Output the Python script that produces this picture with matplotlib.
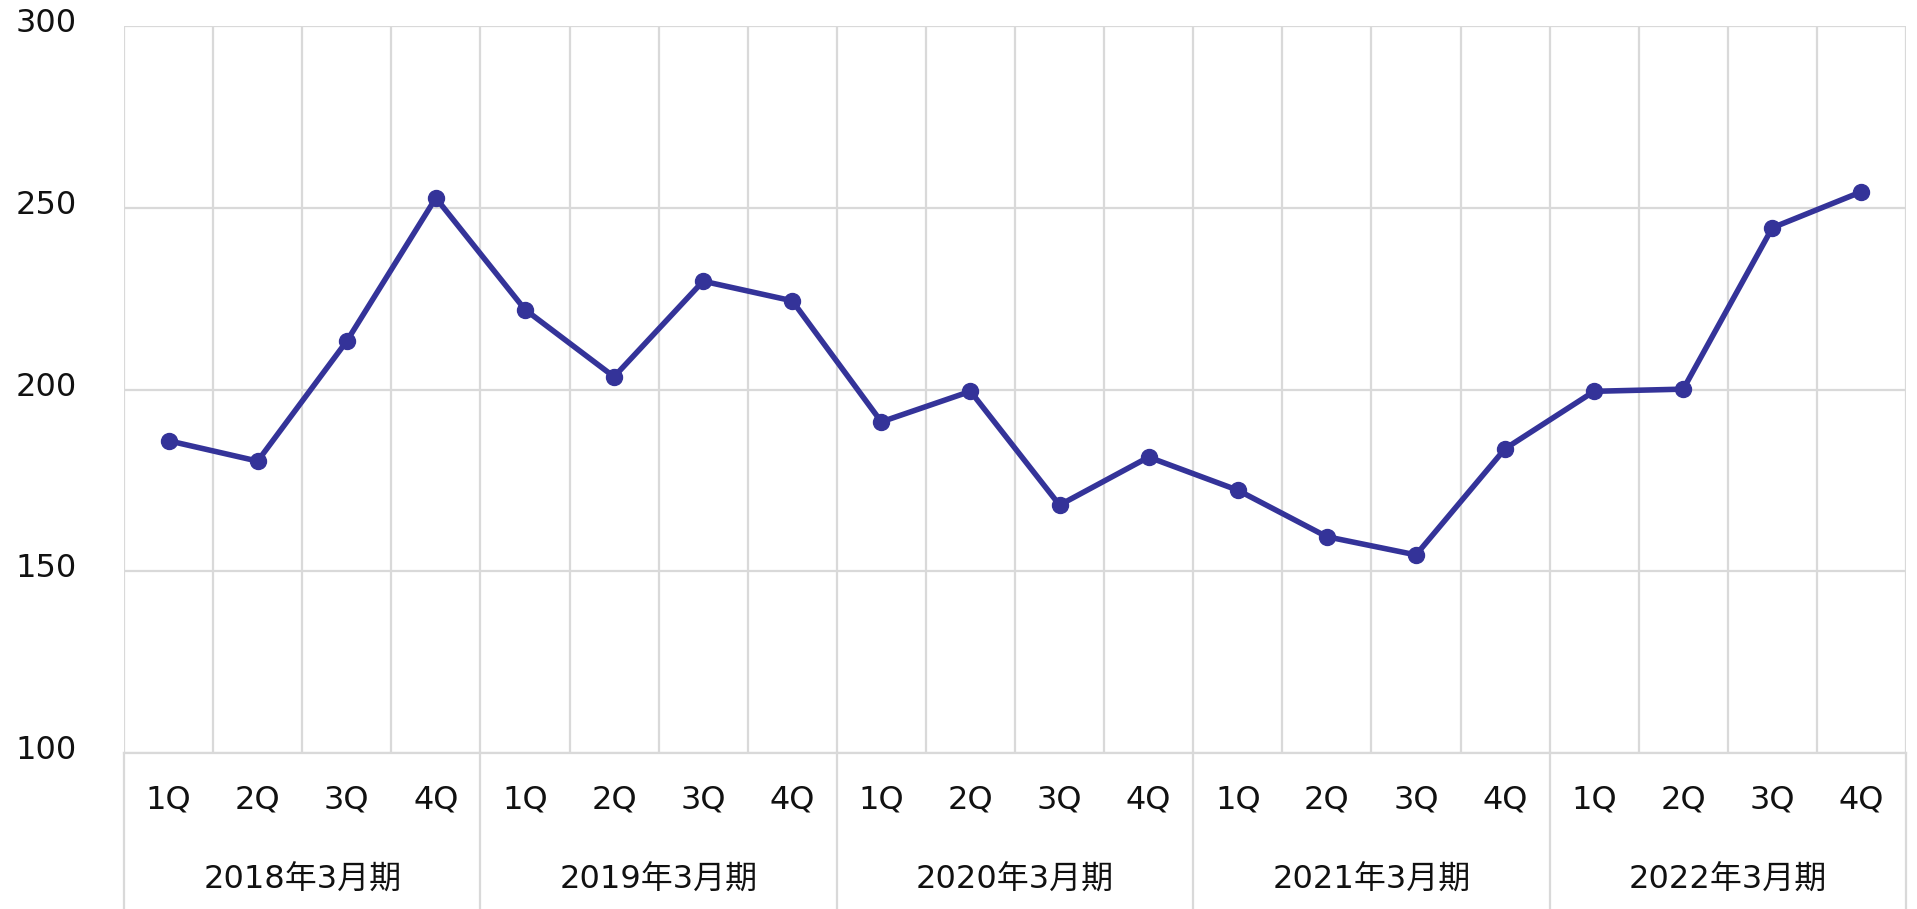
import matplotlib
matplotlib.use("Agg")
import matplotlib.pyplot as plt
import matplotlib.transforms as mtransforms
import numpy as np

plt.rcParams['font.family'] = ['DejaVu Sans', 'Noto Sans CJK JP']

years = ["2018年3月期", "2019年3月期", "2020年3月期", "2021年3月期", "2022年3月期"]
quarters = ["1Q", "2Q", "3Q", "4Q"]
values = [185.9, 180.3, 213.3, 252.7,
          222.0, 203.5, 229.8, 224.4,
          191.1, 199.5, 168.2, 181.4,
          172.3, 159.5, 154.5, 183.7,
          199.5, 200.1, 244.5, 254.4]
yticks = [100, 150, 200, 250, 300]

line_color = "#343399"
grid_color = "#d9d9d9"
text_color = "#111111"
fs = 23

fig = plt.figure(figsize=(19.17, 9.09), dpi=100)
ax = fig.add_axes([124/1917, 156/909, (1906-124)/1917, (753-26)/909])

n = len(values)
x = np.arange(1, n + 1)
ax.plot(x, values, color=line_color, lw=4.0, marker='o', markersize=11.5,
        solid_joinstyle='round', zorder=3, clip_on=False)

ax.set_xlim(0.5, n + 0.5)
ax.set_ylim(100, 300)
ax.set_yticks(yticks)
ax.set_yticklabels([str(v) for v in yticks], fontsize=fs, color=text_color)
ax.tick_params(axis='y', length=0, pad=34)
offset = mtransforms.ScaledTranslation(0, 6/100, fig.dpi_scale_trans)
for lbl in ax.get_yticklabels():
    lbl.set_transform(lbl.get_transform() + offset)

ax.set_xticks(np.arange(0.5, n + 1, 1.0))
ax.set_xticklabels([])
ax.tick_params(axis='x', length=0)
ax.grid(True, color=grid_color, lw=1.6, zorder=0)
for s in ax.spines.values():
    s.set_visible(False)
ax.spines['bottom'].set_visible(True)
ax.spines['bottom'].set_color(grid_color)
ax.spines['bottom'].set_linewidth(1.6)

trans = ax.get_xaxis_transform()
ax_h = 753 - 26
for i in range(n):
    ax.text(x[i], -47/ax_h, quarters[i % 4], transform=trans, ha='center', va='center',
            fontsize=fs, color=text_color)
for j, yl in enumerate(years):
    xc = 4 * j + 2.5
    ax.text(xc, -127/ax_h, yl, transform=trans, ha='center', va='center',
            fontsize=fs, color=text_color)
for b in np.arange(0.5, n + 1, 4):
    ax.plot([b, b], [0, -0.3], transform=trans, color=grid_color, lw=1.6, clip_on=False, zorder=0)

fig.savefig("out.png", dpi=100, facecolor='white')
